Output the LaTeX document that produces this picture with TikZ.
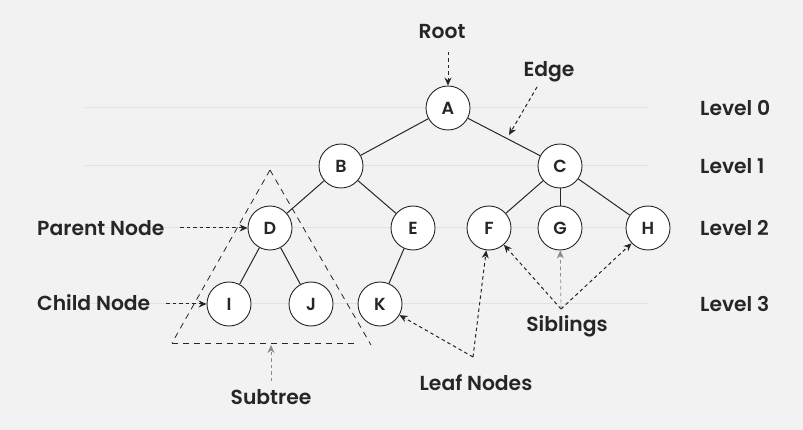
\documentclass[tikz,border=0pt]{standalone}
\usepackage{fontspec}
\setmainfont{Poppins}
\newfontfamily\labelfont{Poppins SemiBold}
\usetikzlibrary{arrows.meta}
\definecolor{bg}{HTML}{F2F2F2}
\definecolor{ink}{HTML}{262626}
\definecolor{guide}{HTML}{E2E2E2}
\definecolor{softink}{HTML}{8A8A8A}
\tikzset{
  tnode/.style={circle, draw=ink, fill=white, line width=0.9pt, minimum size=44pt, inner sep=0pt,
    font=\labelfont\fontsize{17.5}{17.5}\selectfont, text=ink},
  lab/.style={font=\labelfont\fontsize{20.3}{20.3}\selectfont, text=ink, inner sep=0pt},
  tedge/.style={draw=ink, line width=1pt},
  ptr/.style={draw=ink, line width=1pt, dash pattern=on 3.5pt off 3pt, -{Stealth[length=8pt,width=7pt]}},
  softptr/.style={ptr, draw=softink, line width=0.7pt},
  tri/.style={draw=ink, line width=0.8pt, dash pattern=on 6pt off 5pt},
  level line/.style={draw=guide, line width=1pt}
}
\begin{document}
\begin{tikzpicture}[x=1pt,y=-1pt]
  \fill[bg] (0,0) rectangle (803,430);
  \useasboundingbox (0,0) rectangle (803,430);

  % level guide lines
  \foreach \yy in {108,166,228,304} \draw[level line] (85,\yy) -- (648,\yy);

  % subtree outline
  \coordinate (apex) at (270,170);
  \coordinate (bl) at (172,343);
  \coordinate (br) at (371,345);
  \coordinate (be) at (356,343);
  \draw[tri] (apex) -- (bl);
  \draw[tri] (apex) -- (br);
  \draw[tri] (bl) -- (be);

  % tree nodes
  \node[tnode] (A) at (448,108) {A};
  \node[tnode] (B) at (341,166) {B};
  \node[tnode] (C) at (560,166) {C};
  \node[tnode] (D) at (270,228) {D};
  \node[tnode] (E) at (413,228) {E};
  \node[tnode] (F) at (489,228) {F};
  \node[tnode] (G) at (560,228) {G};
  \node[tnode] (H) at (648,228) {H};
  \node[tnode] (I) at (229,304) {I};
  \node[tnode] (J) at (311,304) {J};
  \node[tnode] (K) at (380,304) {K};

  % edges
  \draw[tedge] (A) -- (B);
  \draw[tedge] (A) -- (C);
  \draw[tedge] (B) -- (D);
  \draw[tedge] (B) -- (E);
  \draw[tedge] (C) -- (F);
  \draw[tedge] (C) -- (G);
  \draw[tedge] (C) -- (H);
  \draw[tedge] (D) -- (I);
  \draw[tedge] (D) -- (J);
  \draw[tedge] (E) -- (K);

  % labels
  \node[lab] (root) at (442,32) {Root};
  \node[lab] (edge) at (549,72) {Edge};
  \node[lab, anchor=west] (l0) at (700,108) {Level 0};
  \node[lab, anchor=west] (l1) at (700,166) {Level 1};
  \node[lab, anchor=west] (l2) at (700,228) {Level 2};
  \node[lab, anchor=west] (l3) at (700,304) {Level 3};
  \node[lab, anchor=west] (parent) at (37,228) {Parent Node};
  \node[lab, anchor=west] (child) at (37,303) {Child Node};
  \node[lab] (subtree) at (271,397) {Subtree};
  \node[lab] (leaf) at (476,383) {Leaf Nodes};
  \node[lab] (sib) at (567,326) {Siblings};

  % pointer anchors
  \coordinate (rootT) at (448,52);
  \coordinate (edgeT) at (537,87);
  \coordinate (edgeH) at (509,135);
  \coordinate (parT) at (180,228);
  \coordinate (chT) at (166,304);
  \coordinate (subT) at (271,381);
  \coordinate (subH) at (271,345);
  \coordinate (leafJ) at (473,357);
  \coordinate (sibJ) at (561,309);

  % pointers
  \draw[ptr] (rootT) -- (A);
  \draw[ptr] (edgeT) -- (edgeH);
  \draw[ptr] (parT) -- (D);
  \draw[ptr] (chT) -- (I);
  \draw[softptr] (subT) -- (subH);
  \draw[ptr] (leafJ) -- (K);
  \draw[ptr] (leafJ) -- (F);
  \draw[ptr] (sibJ) -- (F);
  \draw[softptr] (sibJ) -- (G);
  \draw[ptr] (sibJ) -- (H);
\end{tikzpicture}
\end{document}
